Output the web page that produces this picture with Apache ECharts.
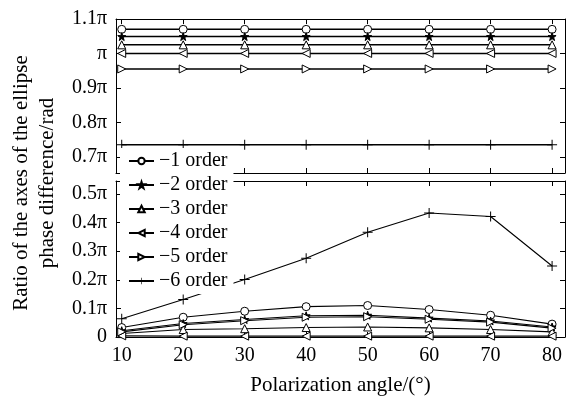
<!DOCTYPE html>
<html>
<head>
<meta charset="utf-8">
<script src="https://cdn.jsdelivr.net/npm/echarts@6/dist/echarts.min.js"></script>
<style>
  html, body { margin: 0; padding: 0; background: #fff; }
  #chart { width: 574px; height: 401px; }
</style>
</head>
<body>
<div id="chart"></div>
<script>
// values are in units of pi
const angles = [10, 20, 30, 40, 50, 60, 70, 80];
const orderNames = ['−1 order', '−2 order', '−3 order', '−4 order', '−5 order', '−6 order'];

const phase1 = [1.07, 1.07, 1.07, 1.07, 1.07, 1.07, 1.07, 1.07];
const phase2 = [1.049, 1.049, 1.049, 1.049, 1.049, 1.049, 1.049, 1.049];
const phase3 = [1.025, 1.025, 1.025, 1.025, 1.025, 1.025, 1.025, 1.025];
const phase4 = [1.0, 1.0, 1.0, 1.0, 1.0, 1.0, 1.0, 1.0];
const phase5 = [0.955, 0.955, 0.955, 0.955, 0.955, 0.955, 0.955, 0.955];
const phase6 = [0.735, 0.735, 0.735, 0.735, 0.735, 0.735, 0.735, 0.735];

const ratio1 = [0.033, 0.069, 0.090, 0.106, 0.110, 0.096, 0.076, 0.045];
const ratio2 = [0.022, 0.047, 0.061, 0.074, 0.076, 0.066, 0.056, 0.035];
const ratio3 = [0.012, 0.026, 0.029, 0.033, 0.035, 0.032, 0.026, 0.018];
const ratio4 = [0.004, 0.003, 0.003, 0.003, 0.003, 0.003, 0.003, 0.003];
const ratio5 = [0.018, 0.043, 0.057, 0.069, 0.071, 0.062, 0.052, 0.031];
const ratio6 = [0.064, 0.131, 0.201, 0.275, 0.366, 0.433, 0.421, 0.248];

const xTicks = [10, 20, 30, 40, 50, 60, 70, 80];
const topTicks = [0.7, 0.8, 0.9, 1.0, 1.1];
const bottomTicks = [0, 0.1, 0.2, 0.3, 0.4, 0.5];

const phases = [phase1, phase2, phase3, phase4, phase5, phase6];
const ratios = [ratio1, ratio2, ratio3, ratio4, ratio5, ratio6];

const font = 'Liberation Serif';

const symbols = [
    { symbol: 'circle', size: 8, fill: '#fff' },
    { symbol: 'path://M5,0L6.2,3.6L10,3.6L7,5.9L8.1,9.5L5,7.3L1.9,9.5L3,5.9L0,3.6L3.8,3.6Z', size: 8, fill: '#000' },
    { symbol: 'triangle', size: 8, fill: '#fff' },
    { symbol: 'path://M10,0L0,5L10,10Z', size: 8, fill: '#fff' },
    { symbol: 'path://M0,0L10,5L0,10Z', size: 8, fill: '#fff' },
    { symbol: 'path://M4.5,0L5.5,0L5.5,4.5L10,4.5L10,5.5L5.5,5.5L5.5,10L4.5,10L4.5,5.5L0,5.5L0,4.5L4.5,4.5Z', size: 10, fill: '#000' }
];

function piLabel(v) {
    if (Math.abs(v) < 1e-9) return '0';
    if (Math.abs(v - 1) < 1e-9) return 'π';
    return (+v.toFixed(2)) + 'π';
}

function makeX(gridIndex, position, showLabel) {
    return {
        type: 'value',
        gridIndex: gridIndex,
        position: position,
        min: 9.07,
        max: 82.1,
        axisLine: { show: true, onZero: false, lineStyle: { color: '#000', width: 1 } },
        axisTick: { show: true, inside: true, length: 5, customValues: xTicks, lineStyle: { color: '#000' } },
        axisLabel: {
            show: showLabel, customValues: xTicks, margin: 9,
            color: '#000', fontFamily: font, fontSize: 20
        },
        splitLine: { show: false },
        name: showLabel ? 'Polarization angle/(°)' : '',
        nameLocation: 'middle',
        nameGap: 38,
        nameTextStyle: { color: '#000', fontFamily: font, fontSize: 21 }
    };
}

function makeY(gridIndex, position, min, max, ticks, showLabel) {
    return {
        type: 'value',
        gridIndex: gridIndex,
        position: position,
        min: min,
        max: max,
        axisLine: { show: true, onZero: false, lineStyle: { color: '#000', width: 1 } },
        axisTick: { show: true, inside: true, length: 5, customValues: ticks, lineStyle: { color: '#000' } },
        axisLabel: {
            show: showLabel, customValues: ticks, margin: 9,
            color: '#000', fontFamily: font, fontSize: 20,
            formatter: piLabel
        },
        splitLine: { show: false }
    };
}

const series = [];
orderNames.forEach(function (name, i) {
    const s = symbols[i];
    const common = {
        name: name,
        type: 'line',
        symbol: s.symbol,
        symbolSize: s.size,
        lineStyle: { color: '#000', width: 1.1 },
        itemStyle: { color: s.fill, borderColor: '#000', borderWidth: i === 5 ? 0 : 1 }
    };
    series.push(Object.assign({}, common, {
        xAxisIndex: 0, yAxisIndex: 0,
        lineStyle: { color: '#000', width: 1.5 },
        data: angles.map((a, k) => [a, phases[i][k]])
    }));
    series.push(Object.assign({}, common, {
        xAxisIndex: 2, yAxisIndex: 2,
        data: angles.map((a, k) => [a, ratios[i][k]])
    }));
});

const chart = echarts.init(document.getElementById('chart'));
chart.setOption({
    animation: false,
    backgroundColor: '#fff',
    grid: [
        { left: 116, top: 19, width: 449, height: 154 },
        { left: 116, top: 181, width: 449, height: 156 }
    ],
    xAxis: [
        makeX(0, 'bottom', false),
        makeX(0, 'top', false),
        makeX(1, 'bottom', true),
        makeX(1, 'top', false)
    ],
    yAxis: [
        makeY(0, 'left', 0.653, 1.1, topTicks, true),
        makeY(0, 'right', 0.653, 1.1, topTicks, false),
        makeY(1, 'left', 0, 0.545, bottomTicks, true),
        makeY(1, 'right', 0, 0.545, bottomTicks, false)
    ],
    legend: {
        data: orderNames,
        orient: 'vertical',
        left: 120,
        top: 148,
        padding: [3, 6, 3, 8],
        itemWidth: 25,
        itemHeight: 8,
        itemGap: 4,
        backgroundColor: '#fff',
        z: 10,
        textStyle: { color: '#000', fontFamily: font, fontSize: 20, lineHeight: 20 }
    },
    graphic: [{
        type: 'text',
        x: 34,
        y: 183,
        rotation: Math.PI / 2,
        style: {
            text: 'Ratio of the axes of the ellipse\nphase difference/rad',
            fill: '#000',
            font: '21px "Liberation Serif"',
            lineHeight: 26,
            textAlign: 'center',
            textVerticalAlign: 'middle'
        }
    }],
    series: series
});
</script>
</body>
</html>
